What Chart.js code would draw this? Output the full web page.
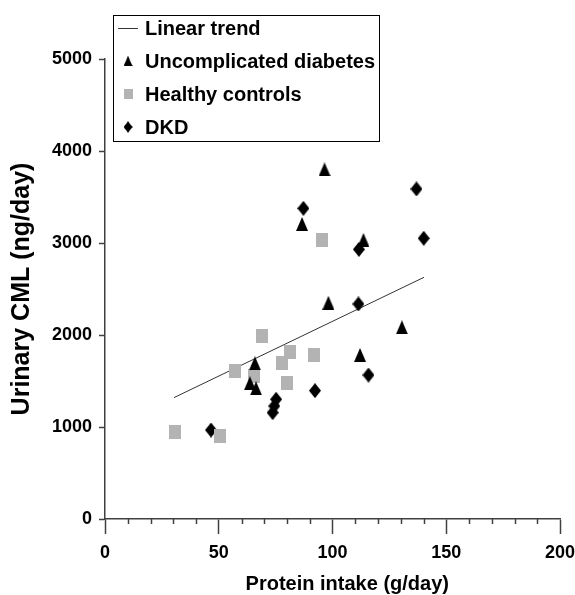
<!DOCTYPE html>
<html>
<head>
<meta charset="utf-8">
<script src="https://cdn.jsdelivr.net/npm/chart.js@4"></script>
<style>
html, body { margin: 0; padding: 0; background: #fff; }
</style>
</head>
<body>
<canvas id="cml" width="575" height="595"></canvas>
<script>
// values
var trendX = [30.3, 140.2];
var trendY = [1319, 2627];

var diabetesX = [96.5, 86.6, 113.6, 98.2, 130.5, 112.1, 65.9, 63.7, 66.4];
var diabetesY = [3800, 3207, 3033, 2350, 2083, 1783, 1692, 1475, 1420];

var healthyX = [95.4, 68.9, 81.3, 91.9, 78.0, 57.3, 65.6, 80.1, 30.8, 50.5];
var healthyY = [3033, 1989, 1819, 1783, 1700, 1609, 1554, 1475, 942, 905];

var dkdX = [136.9, 87.2, 140.1, 111.6, 111.4, 115.8, 92.3, 75.2, 74.4, 73.7, 46.6];
var dkdY = [3587, 3377, 3051, 2931, 2337, 1565, 1395, 1301, 1228, 1156, 967];

var xTicks = [0, 50, 100, 150, 200];
var yTicks = [0, 1000, 2000, 3000, 4000, 5000];

var xTitle = 'Protein intake (g/day)';
var yTitle = 'Urinary CML (ng/day)';

var axisColor = '#404040';
var grey = '#b3b3b3';

function toPoints(xs, ys) {
    var pts = [];
    for (var i = 0; i < xs.length; i++) pts.push({ x: xs[i], y: ys[i] });
    return pts;
}

// small canvases used as point markers
function marker(w, h, color, shape) {
    var c = document.createElement('canvas');
    c.width = w;
    c.height = h;
    var g = c.getContext('2d');
    g.fillStyle = color;
    g.beginPath();
    if (shape === 'triangle') {
        g.moveTo(w / 2, 0);
        g.lineTo(w, h);
        g.lineTo(0, h);
    } else if (shape === 'diamond') {
        g.moveTo(w / 2, 0);
        g.lineTo(w, h / 2);
        g.lineTo(w / 2, h);
        g.lineTo(0, h / 2);
    } else {
        g.rect(0, 0, w, h);
    }
    g.closePath();
    g.fill();
    return c;
}

var triangle = marker(12, 14, '#000', 'triangle');
var square = marker(12, 14, grey, 'square');
var diamond = marker(12, 15, '#000', 'diamond');

var font = "'Liberation Sans', Arial, Helvetica, sans-serif";
Chart.defaults.font.family = font;
Chart.defaults.font.weight = 'bold';
Chart.defaults.color = '#000';

// minor ticks on the x axis every 10 g/day, and the x title (sits right of centre)
var xExtras = {
    id: 'xExtras',
    afterDraw: function (chart) {
        var sx = chart.scales.x;
        var ctx = chart.ctx;
        ctx.save();
        ctx.strokeStyle = axisColor;
        ctx.lineWidth = 1.5;
        for (var v = sx.min + 10; v < sx.max; v += 10) {
            if (v % 50 === 0) continue;
            var px = Math.round(sx.getPixelForValue(v)) + 0.5;
            ctx.beginPath();
            ctx.moveTo(px, sx.top);
            ctx.lineTo(px, sx.top + 5);
            ctx.stroke();
        }
        ctx.font = 'bold 20px ' + font;
        ctx.fillStyle = '#000';
        ctx.textAlign = 'center';
        ctx.textBaseline = 'middle';
        ctx.fillText(xTitle, sx.getPixelForValue(106.5), 584);
        ctx.restore();
    }
};

// boxed legend in the upper part of the plot
var boxLegend = {
    id: 'boxLegend',
    afterDraw: function (chart) {
        var ctx = chart.ctx;
        var sets = chart.data.datasets;
        ctx.save();
        ctx.strokeStyle = '#000';
        ctx.lineWidth = 1;
        ctx.strokeRect(113.5, 15.5, 266, 126);
        ctx.font = 'bold 20px ' + font;
        ctx.textBaseline = 'middle';
        ctx.textAlign = 'left';
        ctx.fillStyle = '#000';
        for (var i = 0; i < sets.length; i++) {
            var y = 28 + i * 33;
            var ds = sets[i];
            if (ds.type === 'line') {
                ctx.strokeStyle = '#333';
                ctx.beginPath();
                ctx.moveTo(118, y + 0.5);
                ctx.lineTo(138, y + 0.5);
                ctx.stroke();
            } else {
                var img = ds.pointStyle;
                var w = img.width * 0.75, h = img.height * 0.75;
                ctx.drawImage(img, 128 - w / 2, y - h / 2, w, h);
            }
            ctx.fillText(ds.label, 145, y + 1);
        }
        ctx.restore();
    }
};

new Chart(document.getElementById('cml'), {
    data: {
        datasets: [
            {
                type: 'line',
                label: 'Linear trend',
                data: toPoints(trendX, trendY),
                borderColor: '#333',
                borderWidth: 1,
                pointRadius: 0,
                order: 2
            },
            {
                type: 'scatter',
                label: 'Uncomplicated diabetes',
                data: toPoints(diabetesX, diabetesY),
                pointStyle: triangle,
                order: 1
            },
            {
                type: 'scatter',
                label: 'Healthy controls',
                data: toPoints(healthyX, healthyY),
                pointStyle: square,
                order: 1
            },
            {
                type: 'scatter',
                label: 'DKD',
                data: toPoints(dkdX, dkdY),
                pointStyle: diamond,
                order: 1
            }
        ]
    },
    options: {
        responsive: false,
        animation: false,
        events: [],
        layout: { padding: { top: 59, right: 15, left: 0, bottom: 0 } },
        plugins: {
            legend: { display: false },
            tooltip: { enabled: false }
        },
        scales: {
            x: {
                type: 'linear',
                min: 0,
                max: 200,
                afterBuildTicks: function (scale) {
                    scale.ticks = xTicks.map(function (v) { return { value: v }; });
                },
                afterFit: function (scale) {
                    scale.height = 76;
                    scale.paddingLeft = 0;
                    scale.paddingRight = 0;
                },
                ticks: { font: { size: 18, weight: 'bold' }, padding: 8, maxRotation: 0 },
                grid: {
                    drawOnChartArea: false,
                    tickLength: 15,
                    tickColor: axisColor,
                    tickWidth: 1.5
                },
                border: { color: axisColor, width: 1.5 }
            },
            y: {
                type: 'linear',
                min: 0,
                max: 5000,
                afterBuildTicks: function (scale) {
                    scale.ticks = yTicks.map(function (v) { return { value: v }; });
                },
                afterFit: function (scale) {
                    scale.width = 105;
                    scale.paddingTop = 0;
                    scale.paddingBottom = 0;
                },
                ticks: {
                    font: { size: 18, weight: 'bold' },
                    padding: 7,
                    callback: function (v) { return String(v); }
                },
                grid: {
                    drawOnChartArea: false,
                    tickLength: 6,
                    tickColor: axisColor,
                    tickWidth: 1.5
                },
                border: { color: axisColor, width: 1.5 },
                title: {
                    display: true,
                    text: yTitle,
                    font: { size: 25, weight: 'bold' },
                    padding: { top: 7, bottom: 0 }
                }
            }
        }
    },
    plugins: [xExtras, boxLegend]
});
</script>
</body>
</html>
